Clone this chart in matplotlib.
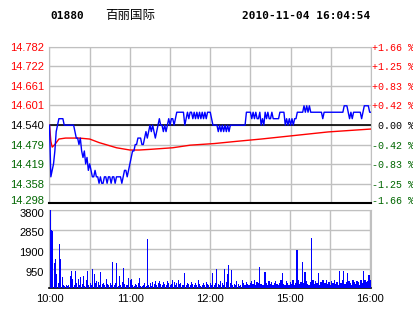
#!/usr/bin/env python3
"""Intraday chart for 01880 (Belle International), 2010-11-04: price + volume."""

import matplotlib
matplotlib.use('Agg')
import matplotlib.pyplot as plt
from matplotlib.transforms import ScaledTranslation

# ---- data ------------------------------------------------------------------
PREV_CLOSE = 14.54
PRICE_TICKS = [14.298, 14.358, 14.419, 14.479, 14.540, 14.601, 14.661, 14.722, 14.782]
PCT_LABELS = ['-1.66 %', '-1.25 %', '-0.83 %', '-0.42 %', ' 0.00 %',
              '+0.42 %', '+0.83 %', '+1.25 %', '+1.66 %']
VOL_TICKS = [950, 1900, 2850, 3800]
TIME_POS = [0, 60, 120, 180, 240]
TIME_LABELS = ['10:00', '11:00', '12:00', '15:00', '16:00']

# one price per trading minute (0..240)
price = [
    14.54, 14.38, 14.40, 14.42, 14.46, 14.52, 14.54, 14.56, 14.56, 14.56,
    14.56, 14.54, 14.54, 14.54, 14.54, 14.54, 14.54, 14.54, 14.54, 14.52,
    14.50, 14.50, 14.48, 14.50, 14.46, 14.44, 14.46, 14.42, 14.44, 14.40,
    14.42, 14.40, 14.38, 14.38, 14.40, 14.38, 14.38, 14.36, 14.38, 14.36,
    14.36, 14.38, 14.38, 14.36, 14.38, 14.38, 14.36, 14.38, 14.38, 14.36,
    14.38, 14.38, 14.38, 14.38, 14.36, 14.38, 14.40, 14.40, 14.38, 14.40,
    14.42, 14.44, 14.46, 14.46, 14.48, 14.48, 14.50, 14.50, 14.50, 14.48,
    14.48, 14.50, 14.52, 14.50, 14.52, 14.54, 14.52, 14.54, 14.52, 14.50,
    14.52, 14.54, 14.56, 14.54, 14.54, 14.52, 14.54, 14.52, 14.54, 14.56,
    14.54, 14.56, 14.56, 14.54, 14.56, 14.58, 14.58, 14.58, 14.58, 14.58,
    14.58, 14.54, 14.56, 14.58, 14.56, 14.58, 14.58, 14.56, 14.58, 14.56,
    14.58, 14.56, 14.58, 14.56, 14.58, 14.56, 14.58, 14.56, 14.58, 14.58,
    14.58, 14.56, 14.54, 14.54, 14.54, 14.54, 14.52, 14.54, 14.52, 14.54,
    14.52, 14.54, 14.52, 14.54, 14.52, 14.54, 14.54, 14.54, 14.54, 14.54,
    14.54, 14.54, 14.54, 14.54, 14.54, 14.54, 14.54, 14.58, 14.58, 14.58,
    14.58, 14.56, 14.58, 14.56, 14.58, 14.56, 14.56, 14.58, 14.54, 14.56,
    14.54, 14.58, 14.56, 14.58, 14.56, 14.56, 14.58, 14.56, 14.56, 14.56,
    14.56, 14.56, 14.58, 14.58, 14.58, 14.58, 14.54, 14.56, 14.54, 14.56,
    14.54, 14.56, 14.54, 14.56, 14.56, 14.58, 14.58, 14.58, 14.58, 14.58,
    14.60, 14.58, 14.60, 14.58, 14.60, 14.58, 14.58, 14.58, 14.58, 14.58,
    14.58, 14.58, 14.58, 14.58, 14.56, 14.58, 14.58, 14.58, 14.58, 14.58,
    14.58, 14.58, 14.58, 14.58, 14.58, 14.58, 14.58, 14.58, 14.58, 14.58,
    14.60, 14.60, 14.60, 14.58, 14.56, 14.58, 14.56, 14.58, 14.58, 14.58,
    14.58, 14.58, 14.58, 14.56, 14.58, 14.60, 14.60, 14.60, 14.60, 14.58,
    14.58,
]

# average-price line, read at selected minutes
avg_min = [0, 1, 2, 4, 7, 12, 22, 30, 37, 50, 60, 67, 75, 92, 105, 123,
           140, 158, 183, 208, 240]
avg_val = [14.540, 14.490, 14.472, 14.480, 14.497, 14.500, 14.500, 14.497,
           14.486, 14.470, 14.463, 14.463, 14.465, 14.470, 14.478, 14.483,
           14.490, 14.497, 14.508, 14.519, 14.528]

# volume per minute (0..240)
volume = [
    3800, 2850, 2800, 1220, 1410, 680, 240, 2140, 1410, 540,
    130, 80, 130, 80, 130, 570, 810, 450, 160, 810,
    240, 440, 130, 520, 200, 570, 80, 400, 810, 130,
    240, 160, 930, 680, 240, 360, 290, 160, 780, 200,
    230, 130, 440, 200, 130, 240, 160, 1270, 130, 240,
    1220, 110, 570, 130, 290, 975, 200, 130, 160, 490,
    410, 450, 130, 80, 200, 160, 240, 490, 110, 80,
    130, 240, 80, 2390, 160, 240, 110, 290, 200, 340,
    130, 240, 340, 200, 160, 290, 200, 130, 340, 240,
    160, 200, 370, 290, 130, 240, 410, 200, 240, 160,
    130, 730, 160, 240, 200, 130, 290, 200, 160, 240,
    130, 370, 200, 80, 160, 240, 130, 290, 200, 160,
    240, 160, 730, 130, 240, 925, 200, 130, 340, 240,
    160, 925, 290, 680, 1140, 240, 880, 160, 200, 130,
    340, 200, 80, 160, 370, 240, 130, 290, 200, 160,
    240, 340, 200, 370, 160, 290, 240, 1000, 200, 160,
    130, 780, 240, 160, 340, 200, 290, 130, 240, 340,
    200, 160, 240, 370, 730, 200, 130, 340, 240, 160,
    290, 200, 410, 160, 240, 1850, 370, 200, 290, 1270,
    240, 780, 340, 200, 160, 290, 2440, 410, 200, 340,
    240, 730, 160, 290, 370, 410, 240, 370, 200, 290,
    160, 340, 240, 370, 200, 290, 160, 845, 240, 370,
    845, 200, 290, 730, 340, 240, 160, 370, 290, 200,
    340, 290, 160, 370, 240, 845, 410, 290, 340, 650,
    410,
]

RED = '#ff0000'
GREEN = '#006600'
GRID = '#c0c0c0'
BLUE = '#0000ff'

W, H = 414, 314


def fig_rect(x0, y0, x1, y1):
    """pixel box (top-left origin) -> figure fraction rect"""
    return [x0 / W, 1 - y1 / H, (x1 - x0) / W, (y1 - y0) / H]


def shift(label, fig, dy_px):
    label.set_transform(label.get_transform() +
                        ScaledTranslation(0, dy_px / 100, fig.dpi_scale_trans))


def main():
    fig = plt.figure(figsize=(W / 100, H / 100), dpi=100)
    fig.patch.set_facecolor('white')

    # ---------------- price panel ----------------
    ax = fig.add_axes(fig_rect(49.5, 47, 371, 203.3))
    minutes = list(range(len(price)))
    ax.set_xlim(0, 240)
    ax.set_ylim(PRICE_TICKS[0], PRICE_TICKS[-1])
    for t in range(0, 241, 30):
        ax.axvline(t, color=GRID, lw=1.0, zorder=1)
    for p in PRICE_TICKS:
        ax.axhline(p, color=GRID, lw=1.0, zorder=1)
    ax.axhline(PREV_CLOSE, color='black', lw=1.2, zorder=2)

    ax.plot(avg_min, avg_val, color=RED, lw=1.0, zorder=3)
    ax.plot(minutes, price, color=BLUE, lw=1.0, zorder=4)

    for side in ['left', 'right', 'top']:
        ax.spines[side].set_color(GRID)
    ax.spines['bottom'].set_color('black')
    ax.spines['bottom'].set_linewidth(1.5)
    ax.set_xticks([])
    ax.set_yticks(PRICE_TICKS)
    ax.set_yticklabels([f'{p:.3f}' for p in PRICE_TICKS],
                       family='Liberation Sans', fontsize=8)
    ax.tick_params(axis='y', length=0, pad=4)
    for lab, p in zip(ax.get_yticklabels(), PRICE_TICKS):
        if p > PREV_CLOSE + 1e-6:
            lab.set_color(RED)
        elif p < PREV_CLOSE - 1e-6:
            lab.set_color(GREEN)
        else:
            lab.set_color('black')
    shift(ax.get_yticklabels()[0], fig, 3)

    ax2 = ax.twinx()
    ax2.set_ylim(ax.get_ylim())
    ax2.set_yticks(PRICE_TICKS)
    ax2.set_yticklabels(PCT_LABELS, family='Liberation Mono', fontsize=7.2)
    ax2.tick_params(axis='y', length=0, pad=1)
    for lab, txt in zip(ax2.get_yticklabels(), PCT_LABELS):
        if txt.startswith('+'):
            lab.set_color(RED)
        elif txt.startswith('-'):
            lab.set_color(GREEN)
        else:
            lab.set_color('black')
    shift(ax2.get_yticklabels()[0], fig, 3)
    for s in ax2.spines.values():
        s.set_visible(False)

    # ---------------- volume panel ----------------
    axv = fig.add_axes(fig_rect(49.5, 210, 371, 288))
    axv.set_xlim(-0.5, 240.5)
    axv.set_ylim(0, 3800)
    for t in range(0, 241, 30):
        axv.axvline(t, color=GRID, lw=1.0, zorder=1)
    for v in VOL_TICKS:
        axv.axhline(v, color=GRID, lw=1.0, zorder=1)
    axv.bar(list(range(len(volume))), volume, width=0.85, color=BLUE,
            linewidth=0, antialiased=False, zorder=3)
    for side in ['left', 'right', 'top']:
        axv.spines[side].set_color(GRID)
    axv.spines['bottom'].set_color('black')
    axv.spines['bottom'].set_linewidth(1.2)
    axv.set_yticks(VOL_TICKS)
    axv.set_yticklabels([str(v) for v in VOL_TICKS],
                        family='Liberation Sans', fontsize=8)
    axv.set_xticks(TIME_POS)
    axv.set_xticklabels(TIME_LABELS, family='Liberation Sans', fontsize=8)
    axv.tick_params(length=0, pad=4)
    for lab in axv.get_yticklabels():
        shift(lab, fig, -3)

    # ---------------- header ----------------
    fig.text(50 / W, 1 - 16 / H, '01880', family='DejaVu Sans Mono',
             weight='bold', fontsize=8, va='center', ha='left')
    fig.text(105 / W, 1 - 16 / H, '百丽国际',
             family=['Noto Sans CJK SC', 'DejaVu Sans'], fontsize=9,
             va='center', ha='left')
    fig.text(370 / W, 1 - 16 / H, '2010-11-04 16:04:54',
             family='DejaVu Sans Mono', weight='bold', fontsize=8,
             va='center', ha='right')

    fig.savefig('out.png', dpi=100)
    plt.close(fig)


if __name__ == '__main__':
    main()
